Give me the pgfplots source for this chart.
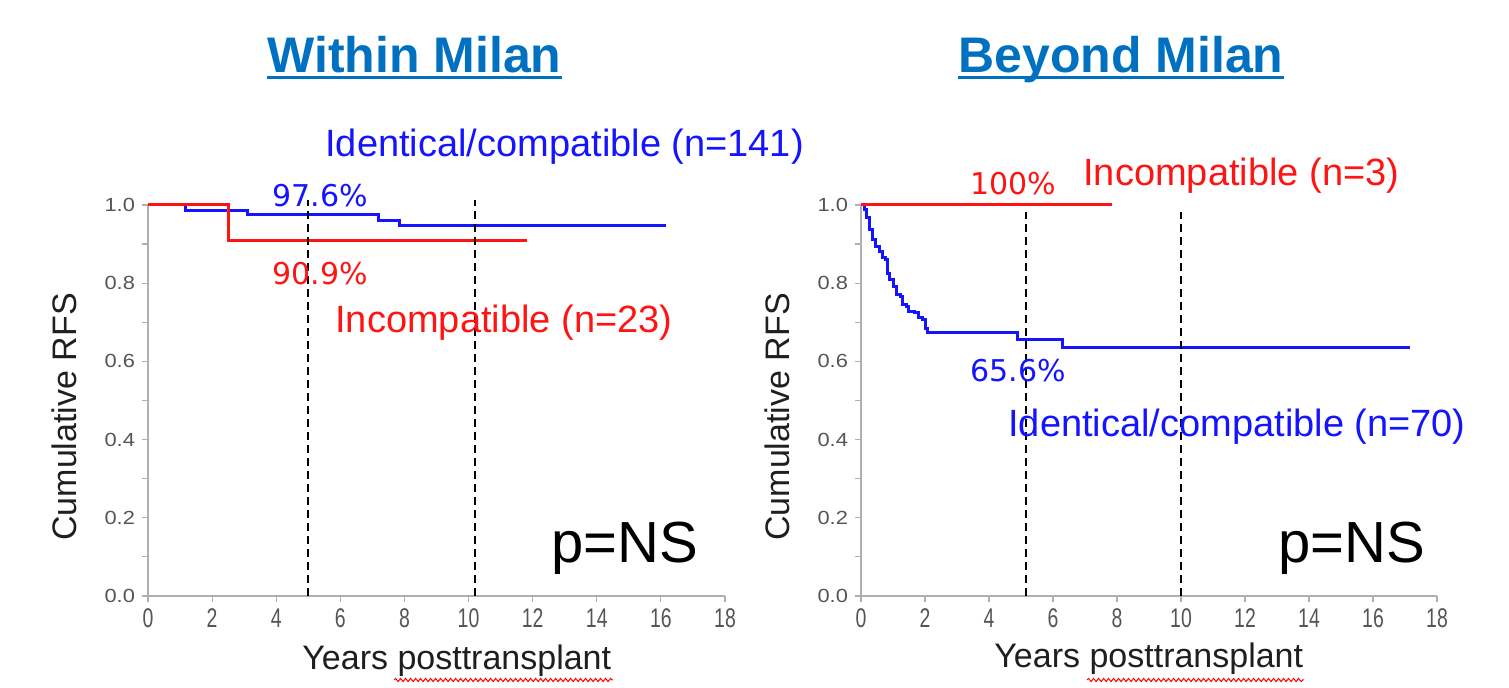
\documentclass[border=0pt]{standalone}
\usepackage{pgfplots}
\pgfplotsset{compat=1.18}
\usepackage{fontspec}
\setmainfont{Liberation Sans}
\newfontfamily\pctfont{DejaVu Sans}
\usetikzlibrary{decorations.pathmorphing}
\definecolor{titleblue}{RGB}{0,112,192}
\definecolor{axgray}{RGB}{175,175,175}
\definecolor{tickgray}{RGB}{85,85,85}
\definecolor{lblue}{RGB}{20,20,255}
\definecolor{lred}{RGB}{255,20,20}
\newcommand{\xl}[1]{\scalebox{0.72}[1]{#1}}
\newcommand{\yl}[1]{\scalebox{1.15}[1]{#1}}
\pgfplotsset{kmstyle/.style={
  scale only axis, width=288.5pt, height=195.5pt,
  xmin=0,xmax=18,ymin=0,ymax=1,
  axis lines=left,
  axis line style={axgray, line width=0.7pt, -},
  xtick={0,2,4,6,8,10,12,14,16,18},
  xticklabels={\xl{0},\xl{2},\xl{4},\xl{6},\xl{8},\xl{10},\xl{12},\xl{14},\xl{16},\xl{18}},
  ytick={0,0.2,0.4,0.6,0.8,1},
  yticklabels={\yl{0.0},\yl{0.2},\yl{0.4},\yl{0.6},\yl{0.8},\yl{1.0}},
  minor ytick={0.1,0.3,0.5,0.7,0.9},
  tick align=outside, major tick length=3pt, minor tick length=3pt,
  tick style={axgray, line width=0.6pt},
  xticklabel style={font=\fontsize{13.5}{13.5}\selectfont, text=tickgray},
  yticklabel style={font=\fontsize{9.5}{9.5}\selectfont, text=tickgray},
  clip=false,
}}
\begin{document}
\begin{tikzpicture}
\path (0,0) rectangle (754.5pt,344pt);
% ---------- left panel ----------
\begin{axis}[kmstyle, at={(74pt,46pt)}, anchor=south west]
\addplot[lblue, line width=1.5pt, const plot] coordinates {
(0,1) (1.18,0.985) (3.1,0.976) (7.18,0.960) (7.84,0.947) (16.15,0.947)};
\addplot[lred, line width=1.5pt, const plot] coordinates {
(0,1) (2.52,0.909) (11.82,0.909)};
\addplot[black, line width=1pt, dash pattern=on 4pt off 2.5pt] coordinates {(5,0) (5,1.013)};
\addplot[black, line width=1pt, dash pattern=on 4pt off 2.5pt] coordinates {(10.2,0) (10.2,1.013)};
\end{axis}
% ---------- right panel ----------
\begin{axis}[kmstyle, at={(430.5pt,46pt)}, anchor=south west, width=288pt]
\addplot[lblue, line width=1.5pt, const plot] coordinates {
(0,1) (0.096,0.989) (0.18,0.968) (0.28,0.938) (0.37,0.912) (0.46,0.895) (0.58,0.882)
(0.68,0.865) (0.76,0.861) (0.82,0.826) (0.90,0.809) (1.0,0.792) (1.12,0.771) (1.24,0.767)
(1.30,0.745) (1.42,0.741) (1.48,0.728) (1.66,0.724) (1.79,0.711) (1.91,0.707) (2.03,0.685)
(2.09,0.674) (4.89,0.656) (6.31,0.636) (17.17,0.636)};
\addplot[lred, line width=1.5pt, const plot] coordinates {(0,1) (7.84,1)};
\addplot[black, line width=1pt, dash pattern=on 4pt off 2.5pt] coordinates {(5.15,0) (5.15,0.983)};
\addplot[black, line width=1pt, dash pattern=on 4pt off 2.5pt] coordinates {(10,0) (10,0.983)};
\end{axis}
% ---------- titles ----------
\node[anchor=base west, inner sep=0pt, text=titleblue, font=\fontsize{25}{25}\selectfont\bfseries] (t1) at (133.5pt,307.5pt) {Within Milan};
\draw[titleblue, line width=1.5pt] ([yshift=-2.4pt]t1.base west) -- ([yshift=-2.4pt]t1.base east);
\node[anchor=base west, inner sep=0pt, text=titleblue, font=\fontsize{25}{25}\selectfont\bfseries] (t2) at (479pt,307.5pt) {Beyond Milan};
\draw[titleblue, line width=1.5pt] ([yshift=-2.4pt]t2.base west) -- ([yshift=-2.4pt]t2.base east);
% ---------- left annotations ----------
\node[anchor=base west, inner sep=0pt, text=lblue, font=\fontsize{19}{19}\selectfont] at (162.5pt,265.5pt) {Identical/compatible (n=141)};
\node[anchor=base west, inner sep=0pt, text=lblue, font=\fontsize{15}{15}\selectfont\pctfont] at (136pt,240.5pt) {97.6\%};
\node[anchor=base west, inner sep=0pt, text=lred, font=\fontsize{15}{15}\selectfont\pctfont] at (136pt,201.5pt) {90.9\%};
\node[anchor=base west, inner sep=0pt, text=lred, font=\fontsize{19}{19}\selectfont] at (167.5pt,177.5pt) {Incompatible (n=23)};
\node[anchor=base west, inner sep=0pt, text=black, font=\fontsize{29}{29}\selectfont] at (275.5pt,62.5pt) {p=NS};
\node[anchor=base, inner sep=0pt, rotate=90, text=black!88, font=\fontsize{17}{17}\selectfont] at (38pt,135.5pt) {Cumulative RFS};
\node[anchor=base west, inner sep=0pt, text=black!88, font=\fontsize{17}{17}\selectfont] at (151pt,9pt) {Years posttransplant};
\draw[red, line width=0.5pt, decorate, decoration={snake, amplitude=0.8pt, segment length=2.5pt}] (197pt,4pt) -- (306.5pt,4pt);
% ---------- right annotations ----------
\node[anchor=base west, inner sep=0pt, text=lred, font=\fontsize{15}{15}\selectfont\pctfont] at (485pt,246.5pt) {100\%};
\node[anchor=base west, inner sep=0pt, text=lred, font=\fontsize{19}{19}\selectfont] at (541.5pt,251pt) {Incompatible (n=3)};
\node[anchor=base west, inner sep=0pt, text=lblue, font=\fontsize{15}{15}\selectfont\pctfont] at (485pt,153pt) {65.6\%};
\node[anchor=base west, inner sep=0pt, text=lblue, font=\fontsize{19}{19}\selectfont] at (504pt,125.5pt) {Identical/compatible (n=70)};
\node[anchor=base west, inner sep=0pt, text=black, font=\fontsize{29}{29}\selectfont] at (639pt,62.5pt) {p=NS};
\node[anchor=base, inner sep=0pt, rotate=90, text=black!88, font=\fontsize{17}{17}\selectfont] at (394.5pt,135.5pt) {Cumulative RFS};
\node[anchor=base west, inner sep=0pt, text=black!88, font=\fontsize{17}{17}\selectfont] at (497pt,10pt) {Years posttransplant};
\draw[red, line width=0.5pt, decorate, decoration={snake, amplitude=0.8pt, segment length=2.5pt}] (543.5pt,4pt) -- (652pt,4pt);
\end{tikzpicture}
\end{document}
